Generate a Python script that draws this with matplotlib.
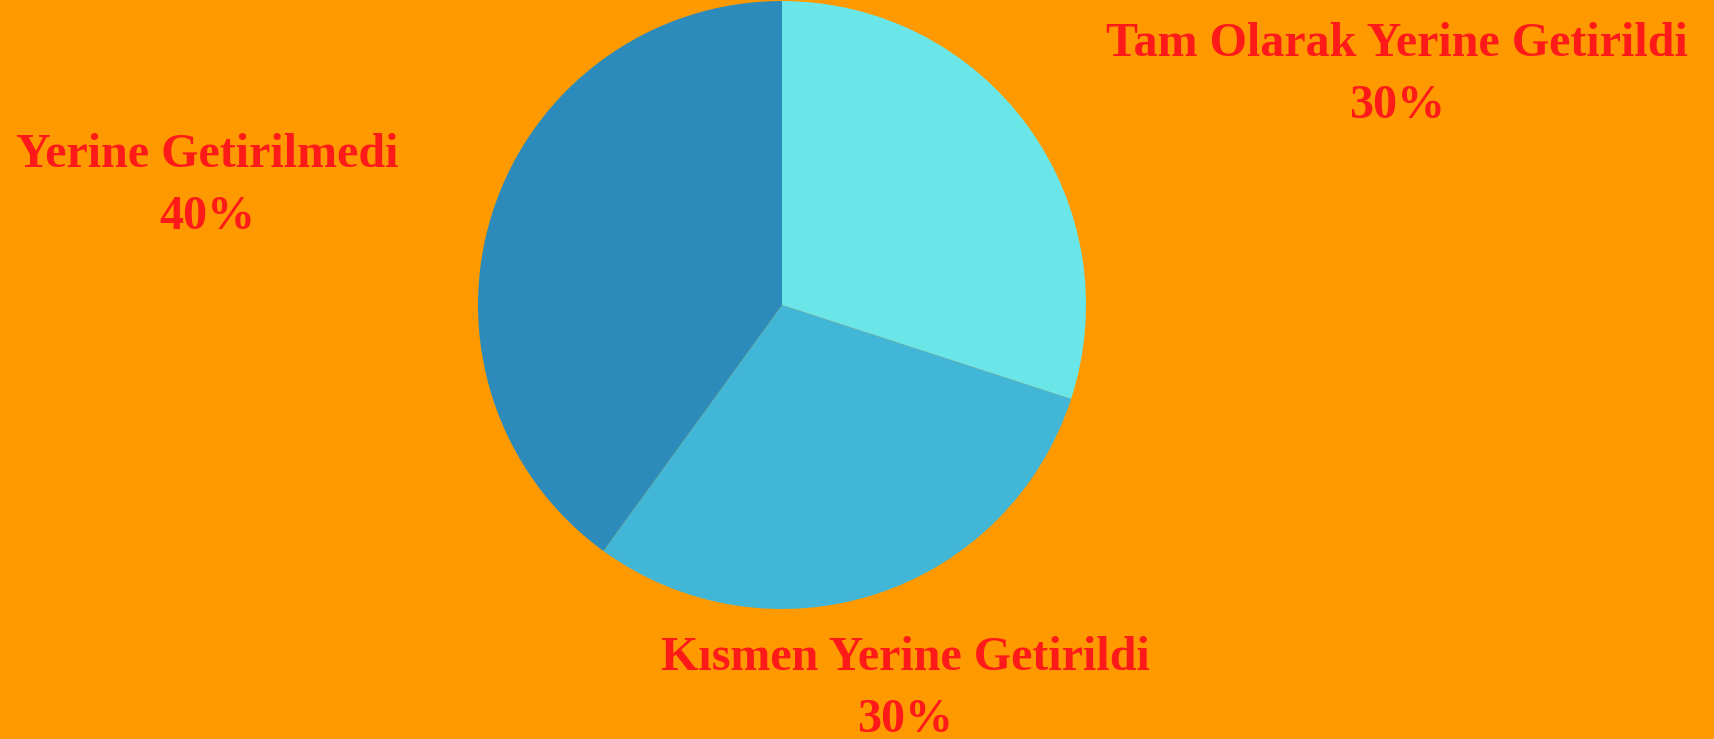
import matplotlib.pyplot as plt

labels = ['Tam Olarak Yerine Getirildi', 'Kısmen Yerine Getirildi', 'Yerine Getirilmedi']
values = [30, 30, 40]
colors = ['#6BE6E8', '#41B6D6', '#2C8BBA']

W, H = 1715, 739
fig = plt.figure(figsize=(W / 100, H / 100), dpi=100)
fig.patch.set_facecolor('#FF9900')
ax = fig.add_axes([0, 0, 1, 1])

ax.pie(values, colors=colors, startangle=90, counterclock=False,
       radius=304, center=(782, H - 305), wedgeprops={'linewidth': 0})

# pie() sets its own limits, so put pixel limits back afterwards
ax.set_xlim(0, W)
ax.set_ylim(0, H)
ax.set_aspect('equal')
ax.axis('off')

red = '#FF1A1A'
# label centre x and first-line baseline (pixels from top-left) for each slice
label_pos = [(1397, 56), (905, 670), (207, 167)]
for lab, v, (x, y) in zip(labels, values, label_pos):
    ax.text(x, H - y, lab, ha='center', va='baseline', color=red,
            fontsize=34.6, fontweight='bold', family='Liberation Serif')
    ax.text(x, H - y - 62, f'{v}%', ha='center', va='baseline', color=red,
            fontsize=34.6, fontweight='bold', family='Liberation Serif')

fig.savefig('out.png', dpi=100, facecolor=fig.get_facecolor())
